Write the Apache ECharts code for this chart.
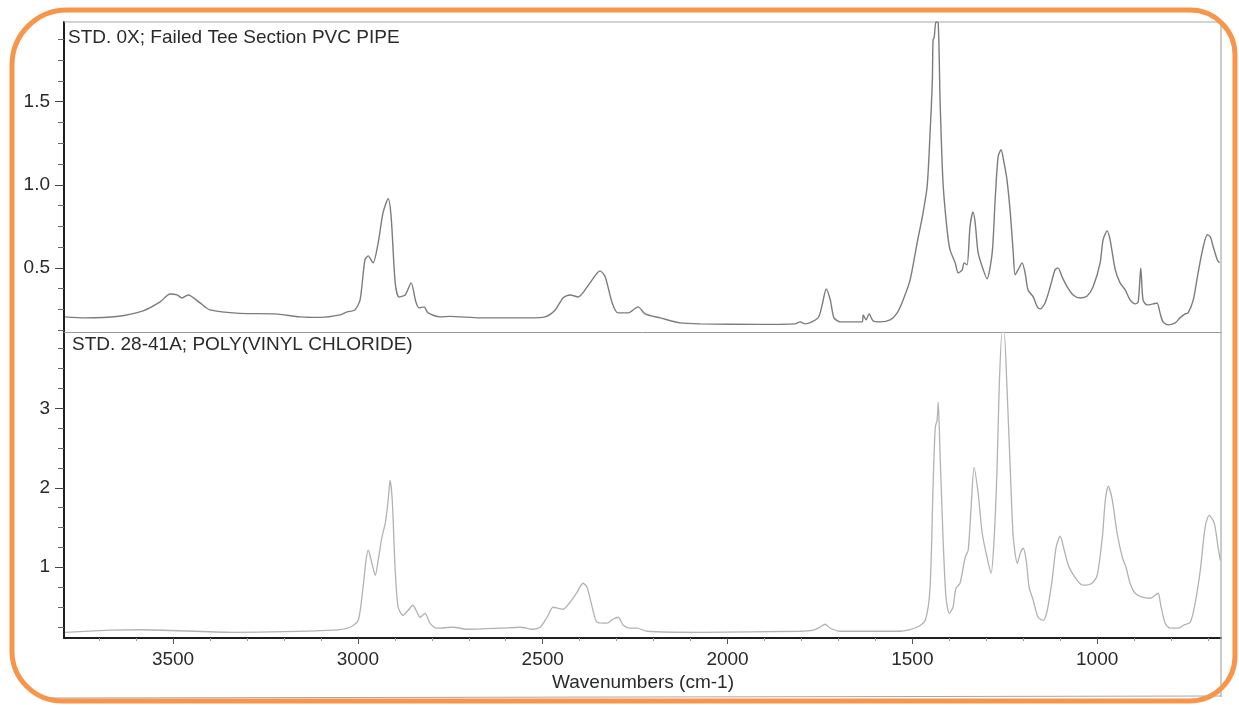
<!DOCTYPE html>
<html>
<head>
<meta charset="utf-8">
<script src="https://cdn.jsdelivr.net/npm/echarts@6/dist/echarts.min.js"></script>
<style>
html,body{margin:0;padding:0;background:#fff;}
#chart{width:1239px;height:705px;}
</style>
</head>
<body>
<div id="chart"></div>
<script>
// ---- Data (wavenumber cm-1, absorbance) ----
const topTitle = 'STD. 0X; Failed Tee Section PVC PIPE';
const bottomTitle = 'STD. 28-41A; POLY(VINYL CHLORIDE)';
const xAxisTitle = 'Wavenumbers (cm-1)';

const xTickLabels = [1000, 1500, 2000, 2500, 3000, 3500];
const topYTickLabels = [0.5, 1.0, 1.5];
const bottomYTickLabels = [1, 2, 3];

// Failed tee section PVC pipe spectrum
const pipeSpectrum = [
 [3792,0.205],[3738,0.199],[3652,0.207],[3581,0.241],[3535,0.295],[3508,0.343],[3489,0.337],[3476,0.319],
 [3459,0.337],[3427,0.289],[3400,0.247],[3319,0.226],[3224,0.223],[3156,0.205],[3102,0.202],[3048,0.217],
 [3029,0.235],[3008,0.247],[2994,0.307],[2981,0.548],[2972,0.572],[2959,0.530],[2945,0.651],[2932,0.831],
 [2918,0.916],[2910,0.807],[2899,0.410],[2889,0.325],[2872,0.337],[2856,0.410],[2843,0.295],[2834,0.259],
 [2821,0.265],[2810,0.229],[2778,0.205],[2751,0.208],[2669,0.199],[2534,0.199],[2494,0.205],[2466,0.247],
 [2445,0.319],[2426,0.337],[2404,0.325],[2372,0.410],[2345,0.482],[2331,0.446],[2312,0.289],[2296,0.229],
 [2269,0.229],[2242,0.265],[2223,0.223],[2182,0.199],[2128,0.169],[2074,0.163],[1912,0.160],[1817,0.163],
 [1804,0.175],[1790,0.163],[1755,0.199],[1744,0.277],[1733,0.373],[1722,0.307],[1712,0.199],[1695,0.175],
 [1668,0.175],[1636,0.175],[1633,0.217],[1625,0.187],[1617,0.223],[1606,0.181],[1587,0.175],[1560,0.187],
 [1541,0.229],[1525,0.307],[1506,0.428],[1487,0.651],[1473,0.807],[1460,0.988],[1452,1.313],[1446,1.614],
 [1444,1.873],[1441,1.886],[1436,1.980],[1430,1.976],[1425,1.512],[1417,1.012],[1406,0.729],[1398,0.608],
 [1384,0.530],[1376,0.470],[1365,0.488],[1360,0.530],[1352,0.518],[1344,0.747],[1336,0.837],[1330,0.771],
 [1322,0.590],[1308,0.488],[1298,0.434],[1284,0.590],[1276,0.910],[1268,1.169],[1260,1.211],[1252,1.133],
 [1244,1.030],[1235,0.831],[1227,0.590],[1222,0.458],[1214,0.488],[1203,0.530],[1195,0.470],[1187,0.367],
 [1173,0.325],[1162,0.265],[1154,0.253],[1141,0.289],[1127,0.386],[1114,0.488],[1106,0.500],[1095,0.446],
 [1081,0.386],[1065,0.337],[1046,0.319],[1027,0.331],[1011,0.386],[992,0.530],[984,0.669],[973,0.723],
 [965,0.669],[951,0.488],[938,0.410],[924,0.367],[911,0.307],[897,0.283],[889,0.295],[882,0.500],
 [876,0.307],[865,0.277],[849,0.283],[838,0.289],[830,0.229],[822,0.175],[808,0.157],[789,0.169],
 [776,0.199],[762,0.223],[754,0.229],[740,0.307],[727,0.470],[713,0.627],[702,0.699],[694,0.687],
 [686,0.627],[675,0.548],[669,0.530]
];

// Poly(vinyl chloride) reference spectrum
const pvcSpectrum = [
 [3792,0.182],[3670,0.208],[3589,0.214],[3338,0.182],[3067,0.208],[3021,0.245],[2999,0.333],[2986,0.748],
 [2978,1.088],[2972,1.214],[2962,1.050],[2953,0.899],[2945,1.088],[2935,1.377],[2926,1.553],[2918,1.843],
 [2913,2.094],[2907,1.843],[2899,0.962],[2891,0.497],[2878,0.396],[2864,0.459],[2851,0.522],[2840,0.434],
 [2832,0.371],[2818,0.421],[2805,0.296],[2786,0.233],[2742,0.245],[2705,0.220],[2615,0.233],[2561,0.245],
 [2526,0.220],[2507,0.245],[2488,0.371],[2472,0.497],[2458,0.484],[2445,0.472],[2426,0.560],[2407,0.686],
 [2391,0.799],[2380,0.748],[2366,0.497],[2353,0.308],[2326,0.296],[2310,0.346],[2296,0.371],[2282,0.270],
 [2264,0.233],[2245,0.233],[2218,0.195],[2074,0.182],[1804,0.195],[1768,0.208],[1750,0.245],[1736,0.283],
 [1722,0.233],[1695,0.195],[1533,0.195],[1487,0.245],[1465,0.333],[1452,0.748],[1444,2.006],[1438,2.761],
 [1433,2.849],[1430,3.075],[1425,2.434],[1417,1.377],[1409,0.623],[1400,0.421],[1390,0.497],[1382,0.736],
 [1371,0.799],[1357,1.126],[1349,1.214],[1341,1.755],[1333,2.258],[1322,1.931],[1311,1.428],[1298,1.126],
 [1287,0.925],[1279,1.340],[1271,2.220],[1265,3.264],[1257,3.956],[1252,3.956],[1244,3.264],[1235,2.220],
 [1227,1.377],[1216,1.050],[1208,1.176],[1200,1.239],[1192,1.088],[1184,0.748],[1173,0.585],[1160,0.371],
 [1146,0.333],[1135,0.459],[1122,0.836],[1111,1.252],[1100,1.390],[1089,1.214],[1076,1.000],[1054,0.836],
 [1038,0.774],[1014,0.799],[1000,0.899],[986,1.377],[978,1.843],[970,2.019],[959,1.843],[946,1.428],
 [932,1.126],[922,1.000],[911,0.799],[897,0.673],[878,0.623],[857,0.610],[843,0.648],[835,0.673],
 [827,0.497],[816,0.296],[803,0.233],[781,0.233],[767,0.270],[748,0.308],[735,0.547],[721,0.962],
 [708,1.503],[697,1.654],[683,1.553],[673,1.252],[667,1.088]
];

// ---- Chart ----
const X_MIN = 665, X_MAX = 3795;
const TOP_MIN = 0.114, TOP_MAX = 1.98;
const BOT_MIN = 0.11, BOT_MAX = 3.96;

function steps(lo, hi, step, exclude) {
  const out = [];
  for (let v = step; v < hi; v += step) {
    const r = Math.round(v * 1000) / 1000;
    if (r > lo && !exclude.some(e => Math.abs(e - r) < 1e-6)) out.push(r);
  }
  return out;
}
const topMinor = steps(TOP_MIN, TOP_MAX, 0.125, topYTickLabels);
const botMinor = steps(BOT_MIN, BOT_MAX, 0.25, bottomYTickLabels);
const xMinor = steps(X_MIN, X_MAX, 100, xTickLabels);

const FONT = 'Liberation Sans, Arial, sans-serif';
const TXT = '#2a2a2a';
const AX = '#1e1e1e';

const chart = echarts.init(document.getElementById('chart'), null, {renderer: 'canvas'});

const grids = [
  {left: 64, right: 18, top: 22, height: 310},
  {left: 64, right: 18, top: 332, height: 306}
];

const xAxes = [
  {gridIndex: 0, type: 'value', position: 'bottom', inverse: true, min: X_MIN, max: X_MAX,
   axisLine: {show: true, onZero: false, lineStyle: {color: '#9a9a9a', width: 1}},
   axisTick: {show: false}, axisLabel: {show: false}, splitLine: {show: false}},
  {gridIndex: 1, type: 'value', position: 'bottom', inverse: true, min: X_MIN, max: X_MAX,
   axisLine: {show: true, onZero: false, lineStyle: {color: AX, width: 2}},
   axisTick: {show: true, length: 6, customValues: xTickLabels, lineStyle: {color: '#555', width: 1}},
   axisLabel: {show: true, customValues: xTickLabels, margin: 12, color: TXT, fontFamily: FONT, fontSize: 19,
     formatter: v => String(Math.round(v))},
   splitLine: {show: false}},
  {gridIndex: 1, type: 'value', position: 'bottom', inverse: true, min: X_MIN, max: X_MAX,
   axisLine: {show: false, onZero: false},
   axisTick: {show: true, length: 3, customValues: xMinor, lineStyle: {color: '#9a9a9a', width: 1}},
   axisLabel: {show: false}, splitLine: {show: false}}
];

const yAxes = [
  {gridIndex: 0, type: 'value', position: 'left', min: TOP_MIN, max: TOP_MAX,
   axisLine: {show: true, onZero: false, lineStyle: {color: AX, width: 2}},
   axisTick: {show: true, length: 9, customValues: topYTickLabels, lineStyle: {color: '#444', width: 1}},
   axisLabel: {show: true, customValues: topYTickLabels, margin: 14, color: TXT, fontFamily: FONT, fontSize: 19,
     formatter: v => Number(v).toFixed(1)},
   splitLine: {show: false}},
  {gridIndex: 0, type: 'value', position: 'left', min: TOP_MIN, max: TOP_MAX,
   axisLine: {show: false, onZero: false},
   axisTick: {show: true, length: 6, customValues: topMinor, lineStyle: {color: '#666', width: 1}},
   axisLabel: {show: false}, splitLine: {show: false}},
  {gridIndex: 1, type: 'value', position: 'left', min: BOT_MIN, max: BOT_MAX,
   axisLine: {show: true, onZero: false, lineStyle: {color: AX, width: 2}},
   axisTick: {show: true, length: 9, customValues: bottomYTickLabels, lineStyle: {color: '#444', width: 1}},
   axisLabel: {show: true, customValues: bottomYTickLabels, margin: 14, color: TXT, fontFamily: FONT, fontSize: 19,
     formatter: v => String(Math.round(v))},
   splitLine: {show: false}},
  {gridIndex: 1, type: 'value', position: 'left', min: BOT_MIN, max: BOT_MAX,
   axisLine: {show: false, onZero: false},
   axisTick: {show: true, length: 6, customValues: botMinor, lineStyle: {color: '#666', width: 1}},
   axisLabel: {show: false}, splitLine: {show: false}}
];

const option = {
  backgroundColor: '#ffffff',
  animation: false,
  grid: grids,
  xAxis: xAxes,
  yAxis: yAxes,
  series: [
    {type: 'line', name: topTitle, xAxisIndex: 0, yAxisIndex: 0, data: pipeSpectrum,
     showSymbol: false, smooth: 0.25, lineStyle: {color: '#7c7c7c', width: 1.4}, z: 3},
    {type: 'line', name: bottomTitle, xAxisIndex: 1, yAxisIndex: 2, data: pvcSpectrum,
     showSymbol: false, smooth: 0.25, lineStyle: {color: '#b2b2b2', width: 1.3}, z: 3}
  ],
  graphic: [
    // scanned page frame lines
    {type: 'line', shape: {x1: 64, y1: 22, x2: 1221, y2: 22}, style: {stroke: '#a8a8a8', lineWidth: 1.2}, z: 1},
    {type: 'line', shape: {x1: 1221, y1: 22, x2: 1221, y2: 697}, style: {stroke: '#a8a8a8', lineWidth: 1.2}, z: 1},
    {type: 'line', shape: {x1: 50, y1: 698, x2: 1221, y2: 696}, style: {stroke: '#a8a8a8', lineWidth: 1.2}, z: 1},
    // panel titles
    {type: 'text', left: 68, top: 28, style: {text: topTitle, fill: TXT, font: '19px ' + FONT}, z: 5},
    {type: 'text', left: 72, top: 335, style: {text: bottomTitle, fill: TXT, font: '19px ' + FONT}, z: 5},
    // x axis title
    {type: 'text', x: 643, y: 683, style: {text: xAxisTitle, fill: TXT, font: '19px ' + FONT, align: 'center', verticalAlign: 'middle'}, z: 5},
    // orange rounded frame
    {type: 'rect', shape: {x: 12, y: 10, width: 1223, height: 691, r: [55, 45, 45, 50]},
     style: {fill: 'none', stroke: '#F7964B', lineWidth: 5}, z: 10}
  ]
};
chart.setOption(option);
</script>
</body>
</html>
